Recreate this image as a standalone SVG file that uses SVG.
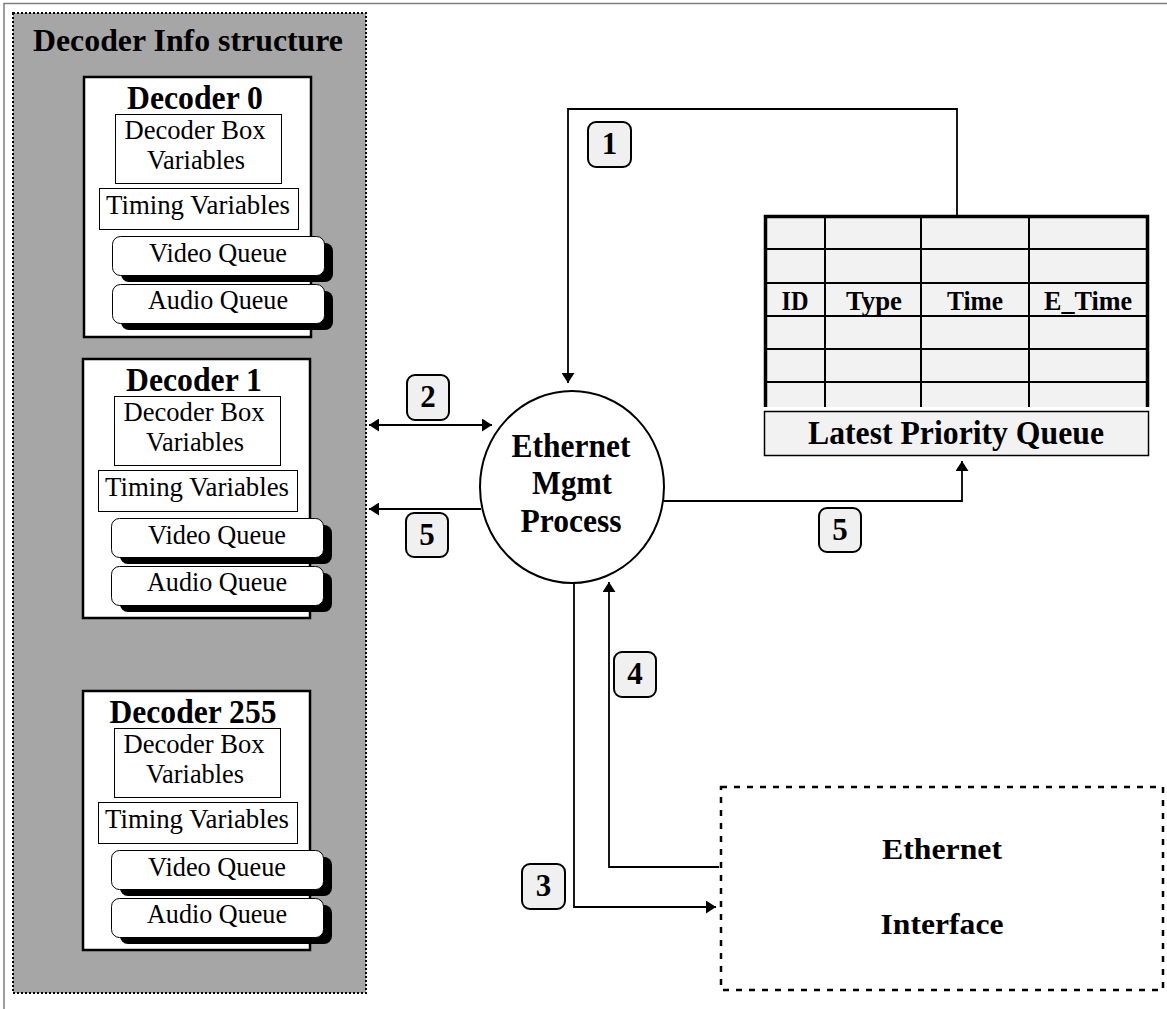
<svg xmlns="http://www.w3.org/2000/svg" width="1167" height="1009" viewBox="0 0 1167 1009">
<defs>
<style>
.frame{fill:none;stroke:#7f7f7f;stroke-width:1.5}
.panel{fill:#a6a6a6;stroke:#000;stroke-width:2;stroke-dasharray:2 2}
.dec{fill:#fff;stroke:#000;stroke-width:2.5}
.inner{fill:#fff;stroke:#000;stroke-width:1}
.qshadow{fill:#000}
.q{fill:#fff;stroke:#000;stroke-width:1}
.b{font-family:'Liberation Serif','Times New Roman',serif;font-weight:bold;fill:#000}
.r{font-family:'Liberation Serif','Times New Roman',serif;fill:#000}
.badge{fill:#f0f0f0;stroke:#000;stroke-width:2}
.conn{fill:none;stroke:#000;stroke-width:1.8}
.cell{fill:none;stroke:#000;stroke-width:2}
.tbl{fill:none;stroke:#000;stroke-width:3.5}
.ei{fill:#fff;stroke:#000;stroke-width:2.5;stroke-dasharray:6 7}
</style>
<marker id="ah" viewBox="0 0 10 13" markerWidth="10" markerHeight="13" refX="10" refY="6.5" orient="auto-start-reverse" markerUnits="userSpaceOnUse">
<path d="M0,0 L10,6.5 L0,13 Z" fill="#000"/>
</marker>
</defs>

<path class="frame" d="M4,1009 V3.5 H1167"/>

<g id="decoder-info-structure">
<rect class="panel" x="13" y="13" width="353" height="980"/>
<text class="b" x="188" y="51" font-size="31" text-anchor="middle" textLength="310" lengthAdjust="spacingAndGlyphs">Decoder Info structure</text>
</g>

<g id="decoder-0">
<rect class="dec" x="84" y="77" width="227" height="260"/>
<text class="b" x="195" y="109" font-size="33" text-anchor="middle" textLength="136" lengthAdjust="spacingAndGlyphs">Decoder 0</text>
<rect class="inner" x="115.5" y="114.5" width="166" height="69"/>
<text class="r" x="195" y="139" font-size="27" text-anchor="middle" textLength="141" lengthAdjust="spacingAndGlyphs">Decoder Box</text>
<text class="r" x="196" y="169" font-size="27" text-anchor="middle" textLength="98" lengthAdjust="spacingAndGlyphs">Variables</text>
<rect class="inner" x="99.5" y="188.5" width="199" height="41"/>
<text class="r" x="198" y="214" font-size="27" text-anchor="middle" textLength="184" lengthAdjust="spacingAndGlyphs">Timing Variables</text>
<rect class="qshadow" x="121" y="243" width="212" height="39" rx="8"/>
<rect class="q" x="112.5" y="236.5" width="212" height="39" rx="8"/>
<text class="r" x="218" y="262" font-size="27" text-anchor="middle" textLength="138" lengthAdjust="spacingAndGlyphs">Video Queue</text>
<rect class="qshadow" x="121" y="291" width="212" height="39" rx="8"/>
<rect class="q" x="112.5" y="284.5" width="212" height="39" rx="8"/>
<text class="r" x="218" y="309" font-size="27" text-anchor="middle" textLength="140" lengthAdjust="spacingAndGlyphs">Audio Queue</text>
</g>

<g id="decoder-1" transform="translate(-1,282)">
<rect class="dec" x="84" y="77" width="227" height="259"/>
<text class="b" x="195" y="109" font-size="33" text-anchor="middle" textLength="136" lengthAdjust="spacingAndGlyphs">Decoder 1</text>
<rect class="inner" x="115.5" y="114.5" width="166" height="69"/>
<text class="r" x="195" y="139" font-size="27" text-anchor="middle" textLength="141" lengthAdjust="spacingAndGlyphs">Decoder Box</text>
<text class="r" x="196" y="169" font-size="27" text-anchor="middle" textLength="98" lengthAdjust="spacingAndGlyphs">Variables</text>
<rect class="inner" x="99.5" y="188.5" width="199" height="41"/>
<text class="r" x="198" y="214" font-size="27" text-anchor="middle" textLength="184" lengthAdjust="spacingAndGlyphs">Timing Variables</text>
<rect class="qshadow" x="121" y="243" width="212" height="39" rx="8"/>
<rect class="q" x="112.5" y="236.5" width="212" height="39" rx="8"/>
<text class="r" x="218" y="262" font-size="27" text-anchor="middle" textLength="138" lengthAdjust="spacingAndGlyphs">Video Queue</text>
<rect class="qshadow" x="121" y="291" width="212" height="39" rx="8"/>
<rect class="q" x="112.5" y="284.5" width="212" height="39" rx="8"/>
<text class="r" x="218" y="309" font-size="27" text-anchor="middle" textLength="140" lengthAdjust="spacingAndGlyphs">Audio Queue</text>
</g>

<g id="decoder-255" transform="translate(-1,614)">
<rect class="dec" x="84" y="77" width="227" height="259"/>
<text class="b" x="194" y="109" font-size="33" text-anchor="middle" textLength="167" lengthAdjust="spacingAndGlyphs">Decoder 255</text>
<rect class="inner" x="115.5" y="114.5" width="166" height="69"/>
<text class="r" x="195" y="139" font-size="27" text-anchor="middle" textLength="141" lengthAdjust="spacingAndGlyphs">Decoder Box</text>
<text class="r" x="196" y="169" font-size="27" text-anchor="middle" textLength="98" lengthAdjust="spacingAndGlyphs">Variables</text>
<rect class="inner" x="99.5" y="188.5" width="199" height="41"/>
<text class="r" x="198" y="214" font-size="27" text-anchor="middle" textLength="184" lengthAdjust="spacingAndGlyphs">Timing Variables</text>
<rect class="qshadow" x="121" y="243" width="212" height="39" rx="8"/>
<rect class="q" x="112.5" y="236.5" width="212" height="39" rx="8"/>
<text class="r" x="218" y="262" font-size="27" text-anchor="middle" textLength="138" lengthAdjust="spacingAndGlyphs">Video Queue</text>
<rect class="qshadow" x="121" y="291" width="212" height="39" rx="8"/>
<rect class="q" x="112.5" y="284.5" width="212" height="39" rx="8"/>
<text class="r" x="218" y="309" font-size="27" text-anchor="middle" textLength="140" lengthAdjust="spacingAndGlyphs">Audio Queue</text>
</g>

<g id="latest-priority-queue">
<rect x="764" y="215" width="385" height="192" fill="#f2f2f2"/>
<path class="cell" d="M764,249 H1149 M764,283 H1149 M764,316 H1149 M764,349 H1149 M764,382 H1149 M825,215 V407 M921,215 V407 M1029,215 V407"/>
<path class="tbl" d="M765.5,407 V216.5 H1147.5 V407"/>
<text class="b" x="795" y="310" font-size="28" text-anchor="middle" textLength="27" lengthAdjust="spacingAndGlyphs">ID</text>
<text class="b" x="874" y="310" font-size="28" text-anchor="middle" textLength="56" lengthAdjust="spacingAndGlyphs">Type</text>
<text class="b" x="975" y="310" font-size="28" text-anchor="middle" textLength="56" lengthAdjust="spacingAndGlyphs">Time</text>
<text class="b" x="1088" y="310" font-size="28" text-anchor="middle" textLength="88" lengthAdjust="spacingAndGlyphs">E_Time</text>
<rect x="764.5" y="411.5" width="384" height="44" fill="#f2f2f2" stroke="#000" stroke-width="1.5"/>
<text class="b" x="956" y="444" font-size="33" text-anchor="middle" textLength="296" lengthAdjust="spacingAndGlyphs">Latest Priority Queue</text>
</g>

<g id="ethernet-mgmt-process">
<ellipse cx="572" cy="487" rx="92" ry="96" fill="#fff" stroke="#000" stroke-width="2"/>
<text class="b" x="571" y="457" font-size="33" text-anchor="middle" textLength="119" lengthAdjust="spacingAndGlyphs">Ethernet</text>
<text class="b" x="572" y="494" font-size="33" text-anchor="middle" textLength="80" lengthAdjust="spacingAndGlyphs">Mgmt</text>
<text class="b" x="571" y="532" font-size="33" text-anchor="middle" textLength="101" lengthAdjust="spacingAndGlyphs">Process</text>
</g>

<g id="ethernet-interface">
<rect class="ei" x="721" y="787" width="442" height="203"/>
<text class="b" x="942" y="859" font-size="30" text-anchor="middle" textLength="120" lengthAdjust="spacingAndGlyphs">Ethernet</text>
<text class="b" x="942" y="934" font-size="30" text-anchor="middle" textLength="123" lengthAdjust="spacingAndGlyphs">Interface</text>
</g>

<g id="connectors">
<path class="conn" d="M957,215 V109 H568 V383" marker-end="url(#ah)"/>
<path class="conn" d="M369,425 H492" marker-start="url(#ah)" marker-end="url(#ah)"/>
<path class="conn" d="M481,509 H369" marker-end="url(#ah)"/>
<path class="conn" d="M664,501 H962 V461" marker-end="url(#ah)"/>
<path class="conn" d="M574,583 V907 H716" marker-end="url(#ah)"/>
<path class="conn" d="M719,867 H609 V582" marker-end="url(#ah)"/>
</g>

<g id="badges">
<g id="badge-1"><rect class="badge" x="588" y="122" width="43" height="45" rx="8"/><text class="b" x="609.5" y="154" font-size="31" text-anchor="middle">1</text></g>
<g id="badge-2"><rect class="badge" x="407" y="375" width="42" height="45" rx="8"/><text class="b" x="428" y="407" font-size="31" text-anchor="middle">2</text></g>
<g id="badge-5-left"><rect class="badge" x="406" y="513" width="42" height="44" rx="8"/><text class="b" x="427" y="545" font-size="31" text-anchor="middle">5</text></g>
<g id="badge-5-right"><rect class="badge" x="819" y="508" width="42" height="44" rx="8"/><text class="b" x="840" y="540" font-size="31" text-anchor="middle">5</text></g>
<g id="badge-4"><rect class="badge" x="614" y="652" width="42" height="45" rx="8"/><text class="b" x="635" y="684" font-size="31" text-anchor="middle">4</text></g>
<g id="badge-3"><rect class="badge" x="522" y="864" width="43" height="45" rx="8"/><text class="b" x="543.5" y="896" font-size="31" text-anchor="middle">3</text></g>
</g>
</svg>
